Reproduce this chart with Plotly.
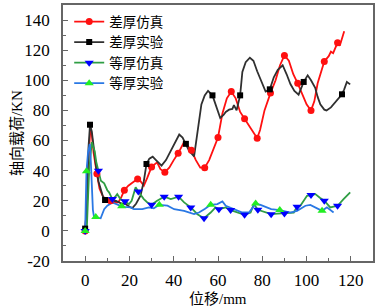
import numpy as np
import plotly.graph_objects as go

# 差厚仿真 (red line, red circles)
red_x = [0, 1, 1.8, 2.4, 3, 3.8, 5.3, 6.5, 8, 9.5, 11.5, 13, 15, 16.2, 17.7, 19.5, 21.3, 23.7, 25, 26.5,
         28, 30, 32.5, 34, 36, 38, 40, 42, 44.5, 46, 48, 50, 52, 54, 56, 58, 60, 62, 64, 66,
         68, 70, 72, 74, 76, 77.7, 79, 81, 83.7, 86, 88, 90, 92, 94, 96, 98, 100, 102, 103.5, 105,
         106.5, 108, 110, 111, 112, 113, 114, 115, 116, 117]
red_y = [0, 22, 55, 68, 64, 52, 38, 28, 23, 20.5, 20, 18.5, 19, 22, 27, 30, 32, 34.5, 33, 30,
         35, 42.5, 45.5, 41, 39, 42, 47, 51.5, 58.5, 57, 53.5, 47, 42, 42, 47, 55, 62, 78, 88, 92.5,
         88, 79, 74.5, 70, 65, 61.5, 67, 80, 91.5, 100, 110, 116.5, 113, 104, 98, 91, 84, 80, 86, 98,
         106, 112.5, 116, 119, 118, 122, 125, 123, 128, 132.5]
red_marks = [0, 5.3, 11.5, 17.7, 23.7, 30, 36, 42, 48, 54, 60, 66, 72, 77.7, 83.7, 90, 96, 102, 108, 114]

# 差厚实验 (black line, black squares)
blk_x = [0, 0.8, 1.5, 2.2, 3, 4, 5, 6, 7, 8, 9, 10.8, 12, 13.8, 16, 18.3, 20, 21.3, 23, 25,
         26.5, 27.7, 29, 30.5, 32, 34.5, 36.5, 38.5, 40.5, 42.5, 44, 45.5, 47, 49.2, 50.5, 51.5, 52.5, 54, 55.5, 57.5,
         59, 61, 62.5, 63.5, 65, 66.5, 67.2, 68.4, 69.2, 70, 71, 72.5, 74.4, 76, 77.7, 79.5, 81.5, 83.4, 85.2, 87,
         89.2, 91, 92.7, 94.5, 96.4, 98.7, 100.5, 102, 103.9, 105, 106.2, 108, 109, 111, 113, 116, 117, 118.2, 119.7]
blk_y = [1.5, 15, 55, 70.5, 66, 52, 42, 33, 27, 23, 20.5, 21, 19.5, 20, 18.5, 17.8, 16, 15.1, 18, 23.3,
         33, 44.4, 48, 49.3, 47, 43.3, 47, 53, 59, 64, 62, 57.8, 53, 49.5, 62, 74, 84, 90, 93, 90,
         83, 75, 77, 79, 80.5, 81, 83.5, 80, 85, 90, 105.5, 112, 115, 113, 106, 100, 92.5, 94, 102, 107,
         110, 104, 97.5, 93, 90.5, 98.9, 103.3, 100, 95, 89, 84, 80.5, 80, 82, 85.6, 90.7, 94, 98.9, 97.3]
blk_marks = [0, 2.2, 9, 27.7, 45.5, 57.5, 70, 83.4, 98.7, 116]

# 等厚仿真 (green line, blue down-triangles)
grn_x = [0, 0.8, 1.8, 3, 3.6, 4.3, 5, 6, 7.1, 8.6, 10, 10.8, 12.3, 13.5, 14.5, 16, 18, 19.8, 21, 22,
         22.8, 24, 25, 26.5, 28, 30, 32.5, 35.7, 38.7, 42.2, 44.7, 47.7, 50.7, 53.7, 56.7, 58.9, 60.4, 63.5, 65.7, 68.7,
         72, 74.7, 76.2, 78, 81, 84, 87, 90, 94.2, 95.7, 97.2, 100.2, 102, 104, 106, 108, 110.7, 114, 116.7, 119.7]
grn_y = [0, 3, 40, 59, 56, 53, 46, 40, 33.3, 31.6, 27, 25.6, 21.1, 22.5, 24.4, 21, 19.6, 17.8, 20, 25.6,
         28.9, 26.2, 24, 21.1, 19, 17.3, 20, 22.7, 21.1, 22.7, 18.9, 15.6, 11.1, 8.4, 12.2, 15.6, 14.4, 15.6, 13.8, 12.2,
         10.7, 12.2, 17.8, 14, 12.5, 11.1, 11.5, 11.6, 12.2, 16, 16.7, 23.3, 23.8, 24.4, 22, 20, 15.6, 16.7, 21.1, 25.6]
grn_marks = [0, 6, 12.3, 18, 24, 30, 35.7, 42.2, 47.7, 53.7, 60.4, 65.7, 72, 78, 84, 90, 95.7, 102, 108, 114]

# 等厚实验 (blue line, green up-triangles)
blu_x = [0, 0.6, 1.3, 2.1, 2.6, 3, 3.5, 4, 4.8, 6, 7, 8.6, 10, 12.3, 15.3, 16.5, 17.7, 20.6, 22, 25.8,
         28.8, 31, 33.5, 37.2, 40.2, 44.7, 49.2, 51.4, 54, 56.7, 59.7, 62, 63.5, 67.2, 71, 74, 76.2, 77, 79.2, 84,
         87.9, 92.7, 95.7, 99.5, 101.7, 104, 107, 109.2, 112.2]
blu_y = [0, 39.6, 52, 57.8, 45, 24, 14, 9.3, 9.3, 8.6, 8.4, 14.4, 16.7, 18.9, 16.7, 16.3, 16, 15.6, 14.4, 14.4,
         15.6, 15, 17.3, 16.7, 14.4, 13.3, 11.1, 12.2, 14.5, 17.3, 17.8, 19.6, 16.7, 14.4, 12.2, 12.2, 16.7, 18.2, 17.3, 14.4,
         13.8, 12.2, 13.3, 16.7, 17.3, 15.6, 13.3, 15.6, 12.2]
blu_marks = [0, 0.6, 4.8, 16.5, 33.5, 56.7, 77, 87.9, 107]

series_names = ["差厚仿真", "差厚实验", "等厚仿真", "等厚实验"]
x_ticks = [0, 20, 40, 60, 80, 100, 120]
y_ticks = [-20, 0, 20, 40, 60, 80, 100, 120, 140]
x_title = "位移/mm"
y_title = "轴向载荷/KN"


def pick(xs, ys, marks):
    arr = np.array(xs, dtype=float)
    idx = [int(np.argmin(np.abs(arr - m))) for m in marks]
    return [xs[i] for i in idx], [ys[i] for i in idx]


styles = [
    (red_x, red_y, red_marks, "#ff1010", "circle", "#ff1010", 7),
    (blk_x, blk_y, blk_marks, "#303030", "square", "#000000", 6),
    (grn_x, grn_y, grn_marks, "#2f9e44", "triangle-down", "#0000ff", 8),
    (blu_x, blu_y, blu_marks, "#2a78e4", "triangle-up", "#22ee22", 8),
]

fig = go.Figure()
for (xs, ys, mk, lc, sym, mc, ms), name in zip(styles, series_names):
    fig.add_trace(go.Scatter(x=xs, y=ys, mode="lines", line=dict(color=lc, width=1.8),
                             showlegend=False, hoverinfo="skip"))
for (xs, ys, mk, lc, sym, mc, ms), name in zip(styles, series_names):
    mx, my = pick(xs, ys, mk)
    fig.add_trace(go.Scatter(x=mx, y=my, mode="markers",
                             marker=dict(symbol=sym, color=mc, size=ms, line=dict(width=0)),
                             showlegend=False))
for (xs, ys, mk, lc, sym, mc, ms), name in zip(styles, series_names):
    fig.add_trace(go.Scatter(x=[None], y=[None], mode="lines+markers", name=name,
                             line=dict(color=lc, width=1.8),
                             marker=dict(symbol=sym, color=mc, size=ms, line=dict(width=0))))

serif = "Liberation Serif, Times New Roman, serif"
axis_common = dict(showline=True, linecolor="#666666", linewidth=1.5, mirror=True,
                   ticks="inside", ticklen=5, tickcolor="#666666", tickwidth=1,
                   showgrid=False, zeroline=False, automargin=False,
                   tickfont=dict(family=serif, size=17, color="black"),
                   minor=dict(ticks="inside", ticklen=3, tickcolor="#666666"))

fig.update_xaxes(range=[-10, 130], tickvals=x_ticks, ticktext=[str(v) for v in x_ticks],
                 minor_dtick=10, minor_tick0=0, ticklabelstandoff=3, **axis_common)
fig.update_yaxes(range=[-20, 150], tickvals=y_ticks, ticktext=[str(v) for v in y_ticks],
                 minor_dtick=10, minor_tick0=0, ticklabelstandoff=8, **axis_common)

title_font = dict(family="Liberation Serif, Noto Sans CJK SC", size=15, color="black")
fig.add_annotation(text=x_title, xref="paper", yref="paper", x=0.5, y=-0.148,
                   xanchor="center", yanchor="middle", showarrow=False, font=title_font)
fig.add_annotation(text=y_title, xref="paper", yref="paper", x=-0.148, y=0.5,
                   xanchor="center", yanchor="middle", textangle=-90, showarrow=False, font=title_font)

fig.update_layout(
    width=378, height=307,
    margin=dict(l=63, r=5, t=5, b=46),
    paper_bgcolor="white", plot_bgcolor="white",
    legend=dict(x=0.02, y=0.995, xanchor="left", yanchor="top",
                bgcolor="rgba(0,0,0,0)", borderwidth=0,
                font=dict(family="Noto Sans CJK SC", size=13.5, color="black"),
                tracegroupgap=0, itemwidth=30),
    showlegend=True,
)

fig.write_html("out.html", config={"displayModeBar": False},
               post_script="document.body.style.margin='0';document.body.style.padding='0';")
